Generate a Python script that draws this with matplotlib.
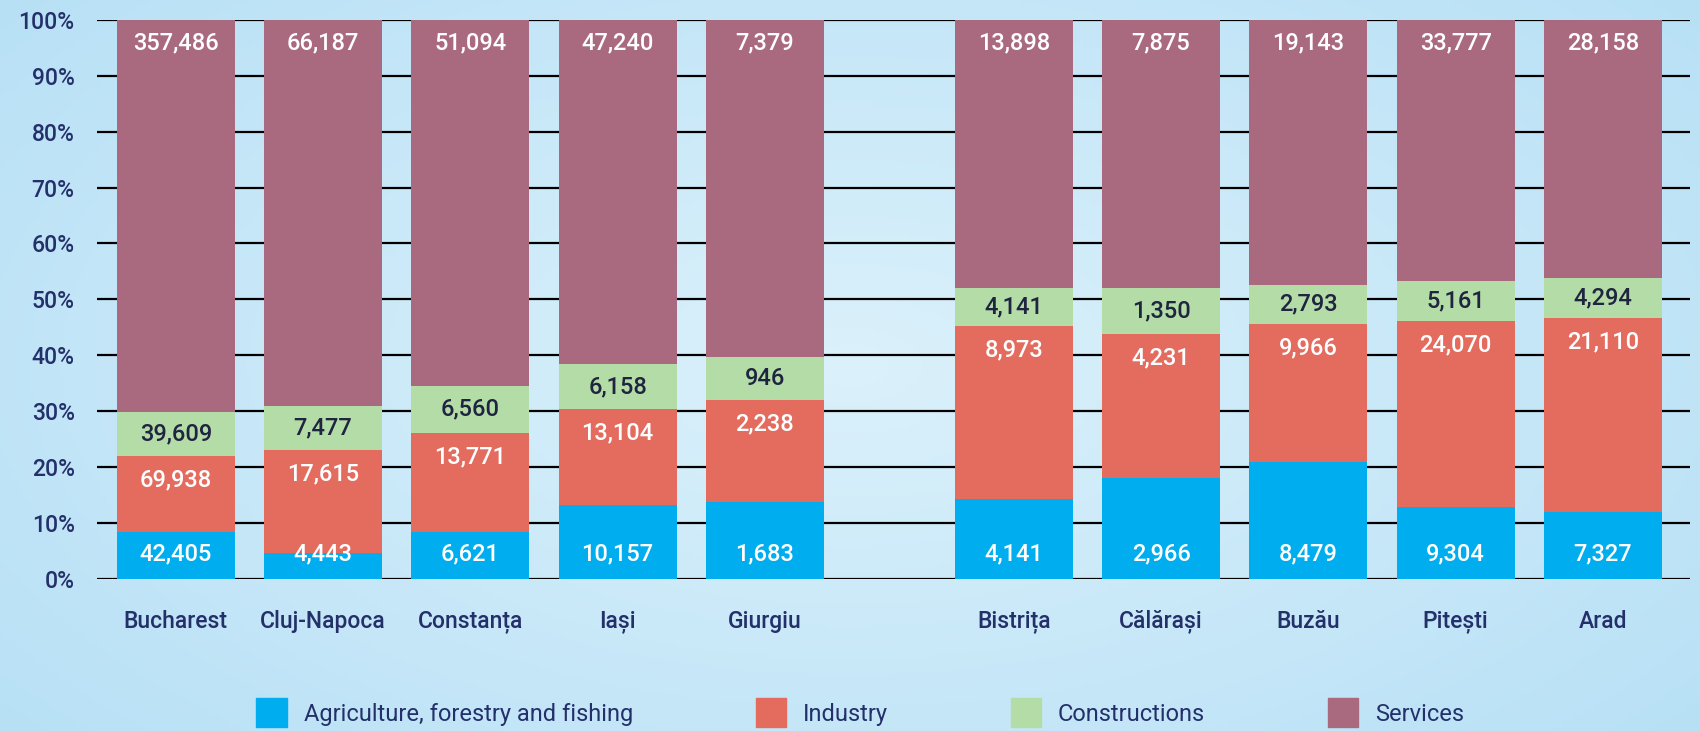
import matplotlib.pyplot as plt
import numpy as np
from matplotlib.patches import Patch

#---------------------------------------------------------------------------------------------------
# data (employees by sector, per city)
cities = ["Bucharest", "Cluj-Napoca", "Constanța", "Iași", "Giurgiu",
          "Bistrița", "Călărași", "Buzău", "Pitești", "Arad"]
agriculture = [42405, 4443, 6621, 10157, 1683, 4141, 2966, 8479, 9304, 7327]
industry = [69938, 17615, 13771, 13104, 2238, 8973, 4231, 9966, 24070, 21110]
constructions = [39609, 7477, 6560, 6158, 946, 4141, 1350, 2793, 5161, 4294]
services = [357486, 66187, 51094, 47240, 7379, 13898, 7875, 19143, 33777, 28158]
# the bar of Bistrița constructions is drawn smaller than its printed label
constructions_drawn = [39609, 7477, 6560, 6158, 946, 2000, 1350, 2793, 5161, 4294]

sectors = ["Agriculture, forestry and fishing", "Industry", "Constructions", "Services"]
colors = ["#00aeef", "#e36c5f", "#b4dca6", "#a96a80"]
label_colors = ["white", "white", "#1f2440", "white"]

#---------------------------------------------------------------------------------------------------
plt.rcParams['font.family'] = ['Roboto', 'DejaVu Sans']
navy = "#24306a"

drawn = np.array([agriculture, industry, constructions_drawn, services], dtype=float)
printed = [agriculture, industry, constructions, services]
pct = drawn / drawn.sum(axis=0) * 100
bottoms = np.vstack([np.zeros(len(cities)), np.cumsum(pct, axis=0)[:-1]])

gap = 0.69
x = np.arange(len(cities), dtype=float)
x[5:] += gap

fig = plt.figure(figsize=(17, 7.31), dpi=100)

# background gradient
bg = fig.add_axes([0, 0, 1, 1], zorder=-10)
yy, xx = np.mgrid[0:1:200j, 0:1:400j]
r = np.sqrt(((xx - 0.5) / 0.75) ** 2 + ((yy - 0.5) / 0.9) ** 2)
c_in = np.array([0.86, 0.945, 0.985])
c_out = np.array([0.70, 0.87, 0.96])
t = np.clip(r, 0, 1)[..., None]
bg.imshow(c_in * (1 - t) + c_out * t, aspect='auto', extent=[0, 1, 0, 1])
bg.axis('off')

ax = fig.add_axes([0.057, 0.208, 0.937, 0.765])
ax.set_facecolor('none')

for i in range(4):
    ax.bar(x, pct[i], bottom=bottoms[i], width=0.8, color=colors[i], zorder=2)

# value labels
for j in range(len(cities)):
    tops = bottoms[:, j] + pct[:, j]
    ys = [4.5, tops[1] - 4.3, bottoms[2, j] + pct[2, j] / 2, 95.8]
    for i in range(4):
        ax.text(x[j], ys[i], f"{printed[i][j]:,}", ha='center', va='center',
                color=label_colors[i], fontsize=17, fontweight='medium', zorder=3)

ax.set_ylim(0, 100)
ax.set_xlim(-0.536, x[-1] + 0.59)
ax.set_yticks(range(0, 101, 10))
ax.set_yticklabels([f"{v}%" for v in range(0, 101, 10)])
ax.set_xticks(x)
ax.set_xticklabels(cities)
ax.yaxis.grid(True, color='black', lw=1.6, zorder=0)
ax.set_axisbelow(True)
for s in ax.spines.values():
    s.set_visible(False)
ax.tick_params(length=0, labelsize=16.5, labelcolor=navy)
ax.tick_params(axis='x', pad=22)
ax.tick_params(axis='y', pad=16)
for lab in ax.get_xticklabels() + ax.get_yticklabels():
    lab.set_fontweight('medium')

handles = [Patch(color=c, label=s) for c, s in zip(colors, sectors)]
leg = fig.legend(handles=handles, loc='center', bbox_to_anchor=(0.506, 0.025), ncol=4,
                 frameon=False, handlelength=1.3, handleheight=1.5, columnspacing=5.2,
                 handletextpad=0.7, fontsize=17)
for txt in leg.get_texts():
    txt.set_color(navy)

fig.savefig("out.png", dpi=100)
